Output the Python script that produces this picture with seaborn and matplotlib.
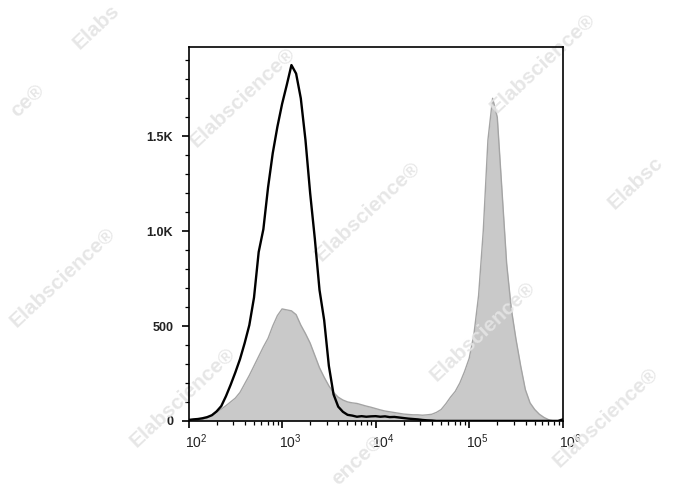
import numpy as np
import pandas as pd
import seaborn as sns
import matplotlib.pyplot as plt
import matplotlib.transforms as mtransforms
from matplotlib.ticker import FixedLocator, FuncFormatter, LogLocator, NullFormatter, MultipleLocator

# log10 fluorescence bins (2.00 .. 6.00, step 0.05)
log_bins = [2.00, 2.05, 2.10, 2.15, 2.20, 2.25, 2.30, 2.35, 2.40, 2.45,
            2.50, 2.55, 2.60, 2.65, 2.70, 2.75, 2.80, 2.85, 2.90, 2.95,
            3.00, 3.05, 3.10, 3.15, 3.20, 3.25, 3.30, 3.35, 3.40, 3.45,
            3.50, 3.55, 3.60, 3.65, 3.70, 3.75, 3.80, 3.85, 3.90, 3.95,
            4.00, 4.05, 4.10, 4.15, 4.20, 4.25, 4.30, 4.35, 4.40, 4.45,
            4.50, 4.55, 4.60, 4.65, 4.70, 4.75, 4.80, 4.85, 4.90, 4.95,
            5.00, 5.05, 5.10, 5.15, 5.20, 5.25, 5.30, 5.35, 5.40, 5.45,
            5.50, 5.55, 5.60, 5.65, 5.70, 5.75, 5.80, 5.85, 5.90, 5.95,
            6.00]

# control (black outline)
control_counts = [5, 8, 10, 14, 20, 30, 50, 78, 130, 190,
                  255, 325, 410, 505, 650, 890, 1010, 1230, 1410, 1550,
                  1670, 1770, 1875, 1830, 1700, 1480, 1200, 960, 690, 530,
                  290, 140, 75, 48, 32, 28, 22, 25, 22, 24,
                  25, 22, 24, 20, 21, 18, 15, 12, 10, 8,
                  5, 3, 2, 0, 0, 0, 0, 0, 0, 0,
                  0, 0, 0, 0, 0, 0, 0, 0, 0, 0,
                  0, 0, 0, 0, 0, 0, 0, 0, 0, 0,
                  8]

# stained sample (grey filled)
stained_counts = [0, 0, 3, 8, 15, 30, 45, 62, 80, 100,
                  120, 150, 195, 240, 290, 340, 390, 435, 500, 555,
                  590, 585, 580, 560, 505, 460, 410, 345, 280, 230,
                  185, 150, 125, 110, 100, 95, 92, 85, 78, 72,
                  65, 58, 52, 48, 44, 40, 36, 34, 32, 32,
                  30, 32, 35, 45, 60, 90, 125, 155, 200, 260,
                  330, 455, 660, 1000, 1480, 1700, 1600, 1215, 830, 590,
                  430, 290, 165, 95, 60, 35, 18, 6, 0, 0,
                  0]

y_ticks = [0, 500, 1000, 1500]
y_tick_labels = ['0', '500', '1.0K', '1.5K']

df = pd.DataFrame({
    'intensity': 10 ** np.array(log_bins),
    'control': control_counts,
    'stained': stained_counts,
})

sns.set_style('white')
plt.rcParams['font.family'] = ['Liberation Sans', 'DejaVu Sans']
plt.rcParams['mathtext.fontset'] = 'custom'
plt.rcParams['mathtext.rm'] = 'Liberation Sans'
plt.rcParams['mathtext.it'] = 'Liberation Sans'

fig = plt.figure(figsize=(6.88, 4.90), dpi=100)
ax = fig.add_axes([0.274, 0.141, 0.544, 0.763])

ax.fill_between(df['intensity'], df['stained'], color='#c9c9c9', lw=0, zorder=1)
sns.lineplot(data=df, x='intensity', y='stained', color='#a4a4a4', lw=1.0, ax=ax, zorder=1.2)
sns.lineplot(data=df, x='intensity', y='control', color='black', lw=1.7, ax=ax, zorder=3)

ax.set_xscale('log')
ax.set_xlim(100, 1e6)
ax.set_ylim(0, 1970)
ax.set_xlabel('')
ax.set_ylabel('')

ax.xaxis.set_major_locator(LogLocator(base=10, numticks=10))
ax.xaxis.set_minor_locator(LogLocator(base=10, subs=np.arange(2, 10), numticks=100))
ax.xaxis.set_minor_formatter(NullFormatter())
ax.xaxis.set_major_formatter(FuncFormatter(lambda v, p: r'$10^{%d}$' % round(np.log10(v))))

ax.yaxis.set_major_locator(FixedLocator(y_ticks))
ax.set_yticklabels(y_tick_labels)
ax.yaxis.set_minor_locator(MultipleLocator(100))

ax.tick_params(axis='both', which='major', direction='out', length=5, width=1.2,
               color='black', bottom=True, left=True)
ax.tick_params(axis='both', which='minor', direction='out', length=3, width=0.9,
               color='black', bottom=True, left=True)
ax.tick_params(axis='x', labelsize=10, pad=3, labelcolor='#222222')
ax.tick_params(axis='y', labelsize=9, pad=6)
for lab in ax.get_yticklabels():
    lab.set_fontweight('bold')
    lab.set_color('#222222')

# x labels sit a little right of their ticks
shift = mtransforms.ScaledTranslation(8 / 100, 0, fig.dpi_scale_trans)
for lab in ax.get_xticklabels():
    lab.set_transform(lab.get_transform() + shift)

for sp in ax.spines.values():
    sp.set_visible(True)
    sp.set_color('black')
    sp.set_linewidth(1.2)

# watermarks: (text, x, y of the first letter in pixels from the top-left)
marks = [('Elabs', 80, 50),
         ('ce\u00ae', 17, 118),
         ('Elabscience\u00ae', 197, 148),
         ('Elabscience\u00ae', 322, 262),
         ('Elabscience\u00ae', 497, 114),
         ('Elabsc', 615, 210),
         ('Elabscience\u00ae', 17, 328),
         ('Elabscience\u00ae', 437, 382),
         ('Elabscience\u00ae', 137, 448),
         ('ence\u00ae', 338, 486),
         ('Elabscience\u00ae', 560, 468)]
for txt, mx, my in marks:
    ax.text(mx / 688, 1 - my / 490, txt, transform=fig.transFigure,
            rotation=43, rotation_mode='anchor', ha='left', va='baseline',
            fontsize=15, fontweight='bold', color='#e4e4e4', alpha=0.9,
            zorder=2, clip_on=False)

fig.savefig('out.png', dpi=100)
